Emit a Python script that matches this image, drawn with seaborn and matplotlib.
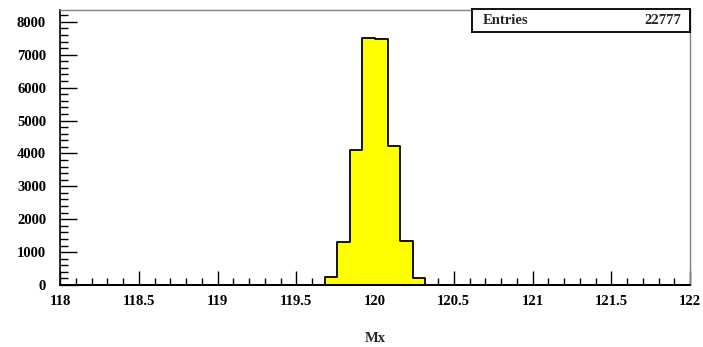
import numpy as np
import matplotlib
matplotlib.use("Agg")
import matplotlib.pyplot as plt
from matplotlib.ticker import MultipleLocator
import seaborn as sns

# Histogram of Mx: 50 bins of width 0.08 between 118 and 122
x_min, x_max, n_bins = 118.0, 122.0, 50
bin_centers = [119.72, 119.80, 119.88, 119.96, 120.04, 120.12, 120.20, 120.28]
bin_counts = [235, 1320, 4090, 7520, 7480, 4220, 1335, 205]
entries = 22777
x_ticks = [118, 118.5, 119, 119.5, 120, 120.5, 121, 121.5, 122]
y_ticks = [0, 1000, 2000, 3000, 4000, 5000, 6000, 7000, 8000]

sns.set_style("ticks")
plt.rcParams["font.family"] = ["Liberation Serif", "DejaVu Serif"]
plt.rcParams["font.weight"] = "bold"

fs = 10.5

fig = plt.figure(figsize=(7.03, 3.47), dpi=100)
ax = fig.add_axes([60 / 703, 62 / 347, 630 / 703, 275 / 347])

sns.histplot(x=bin_centers, weights=bin_counts, bins=n_bins,
             binrange=(x_min, x_max), element="step", fill=True,
             color="#ffff00", alpha=1.0, edgecolor="black", linewidth=1.3,
             ax=ax)

ax.set_xlim(x_min, x_max)
ax.set_ylim(0, 8360)
ax.set_xticks(x_ticks)
ax.set_xticklabels([f"{t:g}" for t in x_ticks])
ax.set_yticks(y_ticks)
ax.set_yticklabels([str(t) for t in y_ticks])
ax.xaxis.set_minor_locator(MultipleLocator(0.1))
ax.yaxis.set_minor_locator(MultipleLocator(200))

ax.tick_params(axis="both", which="both", direction="in", labelsize=fs,
               colors="black", width=1.0)
ax.tick_params(axis="x", which="major", length=10, pad=7)
ax.tick_params(axis="x", which="minor", length=5)
ax.tick_params(axis="y", which="major", length=12, pad=10)
ax.tick_params(axis="y", which="minor", length=6)
for lbl in ax.get_xticklabels() + ax.get_yticklabels():
    lbl.set_fontweight("bold")

for side in ["left", "bottom"]:
    ax.spines[side].set_color("black")
    ax.spines[side].set_linewidth(1.2)
for side in ["top", "right"]:
    ax.spines[side].set_visible(True)
    ax.spines[side].set_color("#808080")
    ax.spines[side].set_linewidth(1.0)

ax.set_ylabel("")
ax.set_xlabel("")
fig.text(375 / 703, 1 - 338 / 347, "Mx", ha="center", va="center",
         fontsize=fs, fontweight="bold")

# statistics box
box = fig.add_axes([472 / 703, (347 - 32) / 347, 218 / 703, 23 / 347])
box.set_xticks([])
box.set_yticks([])
box.set_facecolor("white")
for s in box.spines.values():
    s.set_color("black")
    s.set_linewidth(1.3)
box.text(0.05, 0.5, "Entries", ha="left", va="center", fontsize=fs,
         fontweight="bold", transform=box.transAxes)
box.text(0.96, 0.5, str(entries), ha="right", va="center", fontsize=fs,
         fontweight="bold", transform=box.transAxes)

fig.savefig("out.png", dpi=100, facecolor="white")
